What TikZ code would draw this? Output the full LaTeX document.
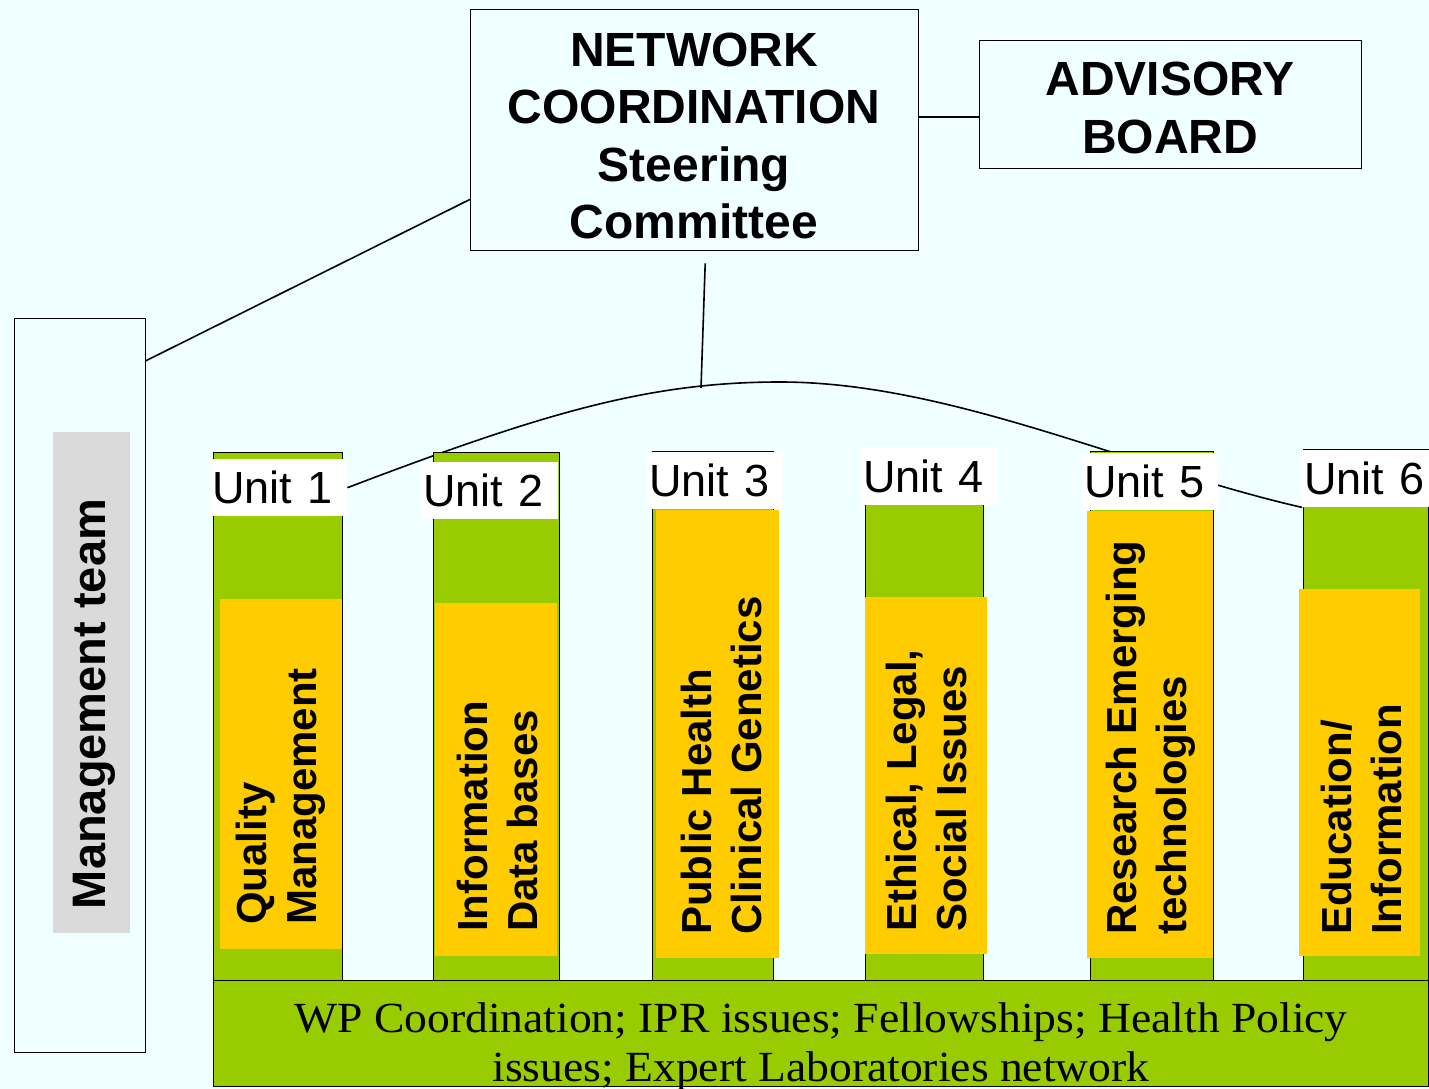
\documentclass[tikz,border=0pt]{standalone}
\usepackage{fontspec}
\setmainfont{Liberation Sans}
\newfontfamily\serifbody[FakeStretch=1.06]{Liberation Serif}
\usetikzlibrary{calc}
\definecolor{bgc}{RGB}{240,255,255}
\definecolor{barg}{RGB}{153,204,0}
\definecolor{yel}{RGB}{255,204,0}
\definecolor{gry}{RGB}{218,218,218}
\pgfdeclarelayer{backlayer}
\pgfdeclarelayer{curvelayer}
\pgfsetlayers{backlayer,curvelayer,main}
\begin{document}
\begin{tikzpicture}[x=1pt,y=-1pt,line width=1.6pt,
  box/.style={draw=black,inner sep=0pt,anchor=north west},
  bar/.style={draw=black,fill=barg,inner sep=0pt,anchor=north west},
  ybox/.style={fill=yel,inner sep=0pt,anchor=north west},
  ulab/.style={fill=white,inner xsep=2pt,inner ysep=0pt,anchor=north west,align=left,minimum height=57pt,
     font=\fontsize{45}{50}\selectfont},
  title/.style={font=\bfseries\fontsize{48}{57.5}\selectfont,align=center,inner sep=0pt},
  vt/.style={rotate=90,anchor=west,align=left,inner sep=0pt,font=\bfseries\fontsize{42}{50}\selectfont},
  conn/.style={draw=black,line width=1.6pt}]
\begin{pgfonlayer}{backlayer}
\fill[bgc] (0,0) rectangle (1429,1089);
\end{pgfonlayer}
\useasboundingbox (0,0) rectangle (1429,1089);
\clip (0,0) rectangle (1429,1089);

% top boxes
\node[box,minimum width=448pt,minimum height=241pt] (net) at (470,9) {};
\node[title] (netT) at (694,136) {NETWORK\\COORDINATION\\Steering\\Committee};
\node[box,minimum width=382pt,minimum height=128pt] (adv) at (979,40) {};
\node[title] (advT) at (1170,108) {ADVISORY\\BOARD};

% management team
\node[box,minimum width=131pt,minimum height=734pt] (mgmt) at (14,318) {};
\node[fill=gry,inner sep=0pt,anchor=north west,minimum width=77pt,minimum height=501pt] (mgray) at (53,432) {};
\node[rotate=90,inner sep=0pt,font=\bfseries\fontsize{47}{56}\selectfont] (mgmtT) at (94,704) {Management team};

% unit bars
\node[bar,minimum width=129pt,minimum height=528pt] (b1) at (213,452) {};
\node[bar,minimum width=126pt,minimum height=528pt] (b2) at (433,452) {};
\node[bar,minimum width=121pt,minimum height=529pt] (b3) at (652,451) {};
\node[bar,minimum width=118pt,minimum height=533pt] (b4) at (865,447) {};
\node[bar,minimum width=123pt,minimum height=529pt] (b5) at (1090,451) {};
\node[bar,minimum width=125pt,minimum height=531pt] (b6) at (1303,449) {};

% yellow panels
\node[ybox,minimum width=122pt,minimum height=350pt] (y1) at (220,599) {};
\node[ybox,minimum width=122pt,minimum height=353pt] (y2) at (435,603) {};
\node[ybox,minimum width=123pt,minimum height=448pt] (y3) at (656,510) {};
\node[ybox,minimum width=122pt,minimum height=357pt] (y4) at (865,597) {};
\node[ybox,minimum width=126pt,minimum height=447pt] (y5) at (1087,511) {};
\node[ybox,minimum width=121pt,minimum height=367pt] (y6) at (1299,589) {};

% unit labels
\node[ulab,text width=133pt] (u1) at (210,459) {Unit 1};
\node[ulab,text width=133pt] (u2) at (421,462) {Unit 2};
\node[ulab,text width=132pt] (u3) at (647,452) {Unit 3};
\node[ulab,text width=133pt,minimum height=58pt] (u4) at (861,447) {Unit 4};
\node[ulab,text width=132pt] (u5) at (1082,453) {Unit 5};
\node[ulab,text width=123pt] (u6) at (1302,450) {Unit 6};

% vertical texts
\node[vt] (t1) at (281,925) {Quality\\Management};
\node[vt] (t2) at (497,932) {Information\\Data bases};
\node[vt] (t3) at (721,935) {Public Health\\Clinical Genetics};
\node[vt] (t4) at (926,932) {Ethical, Legal,\\Social Issues};
\node[vt] (t5) at (1151,935) {Research Emerging\\technologies};
\node[vt] (t6) at (1361,935) {Education/\\Information};

% bottom box
\node[box,fill=barg,minimum width=1215pt,minimum height=106pt] (wp) at (213,980) {};
\node[font=\serifbody\fontsize{43}{49}\selectfont,align=center,inner sep=0pt,anchor=north] (wpT) at (821,1002)
  {WP Coordination; IPR issues; Fellowships; Health Policy\\issues; Expert Laboratories network};

% connectors
\coordinate (vtop) at ($(net.south)+(11,13)$);
\coordinate (vbot) at (701,388);
\draw[conn] ($(net.north east)+(0,108)$) -- ($(adv.north west)+(0,77)$);
\draw[conn] ($(net.south west)+(0,-51)$) -- ($(mgmt.north east)+(0,43)$);
\draw[conn] (vtop) -- (vbot);
\begin{pgfonlayer}{curvelayer}
\draw[conn] (u1.east) .. controls (546,412) and (650,382) .. (780,382)
  .. controls (950,382) and (1130,468) .. (u6.south west);
\end{pgfonlayer}
\end{tikzpicture}
\end{document}
